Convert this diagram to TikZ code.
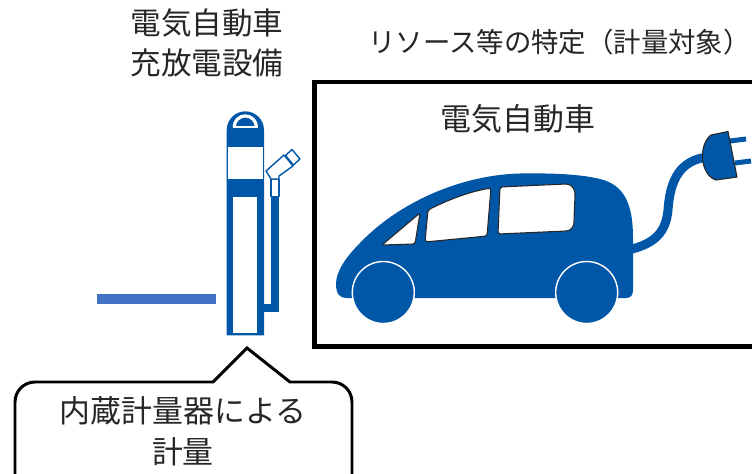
\documentclass[tikz,border=0pt]{standalone}
\usepackage{fontspec}
\setmainfont{Noto Sans CJK JP}
\definecolor{evblue}{RGB}{0,87,168}
\definecolor{barblue}{RGB}{68,114,196}
\definecolor{txtgray}{RGB}{38,38,38}

\begin{document}
\begin{tikzpicture}[x=0.02cm,y=-0.02cm,
        caption/.style={text=txtgray,inner sep=0pt,align=center},
        winpane/.style={fill=white,draw=black!85,line width=0.6pt,rounded corners=0.05cm},
        nozzlepart/.style={fill=white,draw=evblue,line width=0.8pt,line join=round}]
        \useasboundingbox (0,0) rectangle (752,474);
        \clip (0,0) rectangle (752,474);

        \node[caption,font=\fontsize{17.4pt}{22.8pt}\selectfont] (station) at (207,43) {電気自動車\\充放電設備};
        \node[caption,anchor=west,font=\fontsize{15.6pt}{18pt}\selectfont] (scope) at (368,42) {リソース等の特定（計量対象）};
        \node[caption,font=\fontsize{17.6pt}{20pt}\selectfont] (evlabel) at (518,119) {電気自動車};
        \node[caption,font=\fontsize{17.6pt}{23.3pt}\selectfont] (meter) at (183,431) {内蔵計量器による\\計量};

        \draw[line width=2.8pt] (752,82) -- (314.7,82) -- (314.7,346.3) -- (752,346.3);

        \draw[line width=1.7pt] (15,474) -- (15,402) arc[start angle=180,end angle=270,radius=20]
                -- (213,382) -- (247,348) -- (290,382)
                -- (332,382) arc[start angle=270,end angle=360,radius=20] -- (352,474);

        \fill[barblue] (97,293.5) rectangle (215.5,304);

        \fill[evblue] (226.7,335.3) -- (226.7,130) arc[start angle=180,end angle=360,radius=18.65] -- (264,335.3) -- cycle;
        \draw[white,line width=0.064cm] (234.2,127) arc[start angle=180,end angle=360,radius=11.1];
        \draw[white,line width=0.03cm] (232.6,127) -- (258,127);
        \fill[white] (228.2,146.7) rectangle (262.5,179.3);
        \fill[white] (233.3,197) rectangle (257.3,332.7);
        \fill[evblue] (270.5,196.7) rectangle (278.5,311.7);
        \fill[evblue] (263,303.5) rectangle (278.5,311.7);
        \draw[nozzlepart] (271,179.3) rectangle (279,196.7);
        \draw[nozzlepart] (271,179) -- (266,171) -- (284,155) -- (293,166) -- (279,176) -- (279,179) -- cycle;
        \draw[nozzlepart] (285.5,155.5) -- (292,149.5) -- (300,159) -- (293.5,165) -- cycle;

        \draw[evblue,line width=0.18cm] (628,250) .. controls (655,244) and (666,232) .. (668,210)
                .. controls (670,180) and (680,160) .. (708,157);
        \draw[evblue,line width=0.1cm] (730,141) -- (746,139);
        \draw[evblue,line width=0.1cm] (735,163) -- (751,161);
        \filldraw[fill=evblue,draw=black!85,line width=0.6pt] (711,135) -- (728,131.5) -- (737,177) -- (716,180)
                .. controls (700,175) and (698,145) .. (711,135) -- cycle;

        \fill[evblue] (346,298) -- (626,298) .. controls (631,298) and (633,295) .. (633,290)
                -- (633,238) .. controls (633,205) and (625,185) .. (600,179)
                .. controls (580,174) and (550,173) .. (520,173.5)
                .. controls (460,175) and (398,203) .. (360,243)
                .. controls (345,258) and (336,272) .. (336,284)
                .. controls (336,294) and (340,298) .. (346,298) -- cycle;
        \filldraw[fill=evblue,draw=white,line width=0.8pt] (383.3,292.5) circle[radius=31];
        \filldraw[fill=evblue,draw=white,line width=0.8pt] (586.7,292.5) circle[radius=31];
        \draw[winpane] (382,245) -- (420,213) -- (415,244) -- cycle;
        \draw[winpane] (425,242) -- (428,210) .. controls (448,200) and (468,192) .. (491,188) -- (487,236) -- cycle;
        \draw[winpane] (498,234) -- (500,187) -- (566,184) .. controls (572,185) and (575,190) .. (575,196)
                -- (574,220) .. controls (574,226) and (571,230) .. (566,231) -- cycle;
\end{tikzpicture}
\end{document}
